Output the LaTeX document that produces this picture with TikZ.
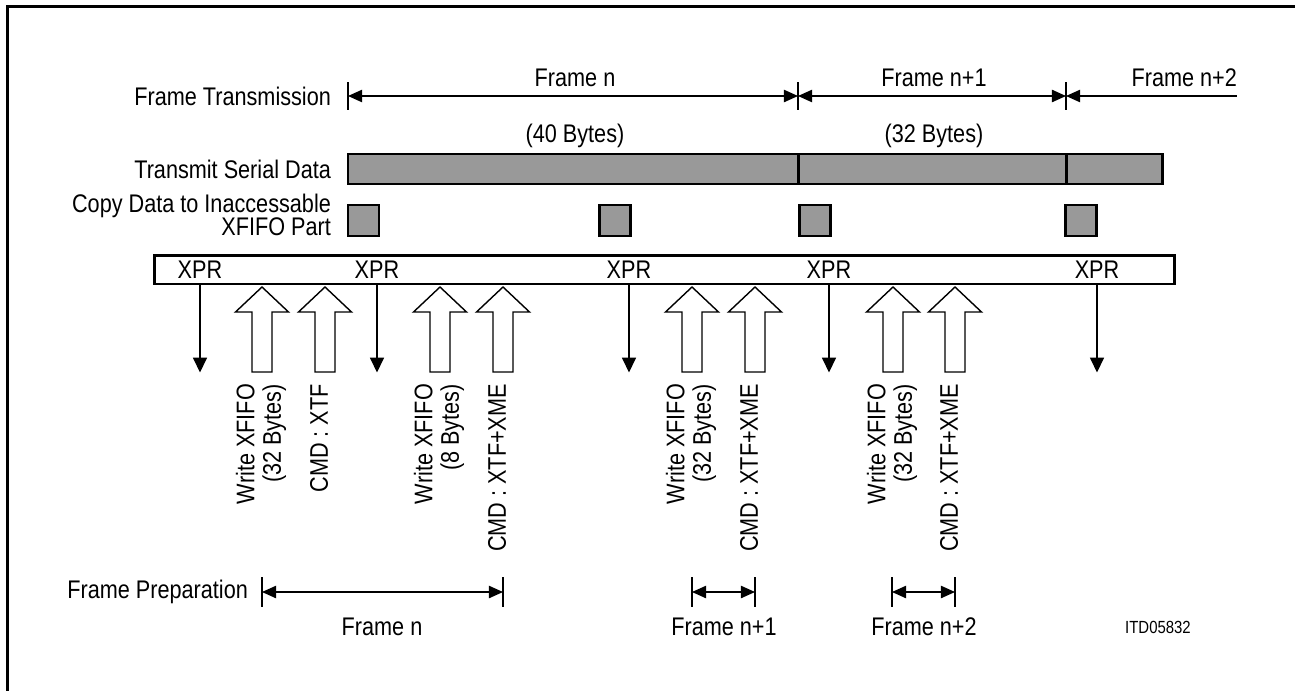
\documentclass[tikz,border=0pt]{standalone}
\usepackage{fontspec}
\setmainfont{Liberation Sans}[FakeStretch=0.85]
\usetikzlibrary{arrows.meta}
\definecolor{dataGray}{RGB}{153,153,153}

\begin{document}
\begin{tikzpicture}[x=0.02cm, y=-0.02cm,
      font=\fontsize{14.5}{13.5}\selectfont,
      lbl/.style={inner sep=1pt},
      side/.style={inner sep=1pt, anchor=east, align=right},
      vert/.style={inner sep=1pt, rotate=90, anchor=east, align=right, font=\fontsize{14.5}{15}\selectfont},
      dim/.style={{Triangle[length=8pt,width=7pt]}-{Triangle[length=8pt,width=7pt]}, line width=0.8pt},
      tick/.style={line width=0.7pt},
      databox/.style={draw, line width=1.7pt, fill=dataGray},
      xprflag/.style={-{Triangle[length=8.5pt,width=8pt]}, line width=0.8pt},
      hollow/.style={draw, fill=white, line width=0.8pt, line join=miter}
    ]
    \useasboundingbox (0,0) rectangle (1295,690);
    \draw[line width=1.7pt] (7.5,6.5) rectangle (1320,720);

    \node[side] (ftx) at (333,96)  {Frame Transmission};
    \node[lbl]  (fn)  at (575,78)  {Frame n};
    \node[lbl]  (fn1) at (934,78)  {Frame n+1};
    \node[lbl, anchor=east] (fn2) at (1239,78) {Frame n+2};
    \node[lbl]  (b40) at (575,136) {(40 Bytes)};
    \node[lbl]  (b32) at (934,136) {(32 Bytes)};

    \coordinate (t0) at (348,96);
    \coordinate (t1) at (798,96);
    \coordinate (t2) at (1066,96);
    \coordinate (t3) at (1237,96);
    \draw[tick] (t0) ++(0,-14) -- ++(0,28);
    \draw[tick] (t1) ++(0,-14) -- ++(0,28);
    \draw[tick] (t2) ++(0,-14) -- ++(0,28);
    \draw[dim] (t0) -- (t1);
    \draw[dim] (t1) -- (t2);
    \draw[{Triangle[length=8pt,width=7pt]}-, line width=0.8pt] (t2) -- (t3);

    \node[side] (tsd) at (333,169) {Transmit Serial Data};
    \draw[databox] (348,154) rectangle (798,184);
    \draw[databox] (798,154) rectangle (1066,184);
    \draw[databox] (1066,154) rectangle (1162,184);

    \node[side] (cpy) at (333,215) {Copy Data to Inaccessable\\XFIFO Part};
    \draw[databox] (348,205) rectangle ++(31,31);
    \draw[databox] (599,205) rectangle ++(31,31);
    \draw[databox] (799,205) rectangle ++(31,31);
    \draw[databox] (1065,205) rectangle ++(31,31);

    \node[draw, line width=1.7pt, minimum width=20.42cm, minimum height=0.58cm] (xprbar) at (664.5,269.5) {};
    \node[lbl] (xpr1) at (200,270)  {XPR};
    \node[lbl] (xpr2) at (377,270)  {XPR};
    \node[lbl] (xpr3) at (629,270)  {XPR};
    \node[lbl] (xpr4) at (829,270)  {XPR};
    \node[lbl] (xpr5) at (1097,270) {XPR};

    \draw[xprflag] (xpr1 |- xprbar.south) -- ++(0,87);
    \draw[xprflag] (xpr2 |- xprbar.south) -- ++(0,87);
    \draw[xprflag] (xpr3 |- xprbar.south) -- ++(0,87);
    \draw[xprflag] (xpr4 |- xprbar.south) -- ++(0,87);
    \draw[xprflag] (xpr5 |- xprbar.south) -- ++(0,87);

    \draw[hollow] (262,287) -- ++(26.5,25) -- ++(-16.5,0) -- ++(0,60) -- ++(-20,0) -- ++(0,-60) -- ++(-16.5,0) -- cycle;
    \draw[hollow] (325,287) -- ++(26.5,25) -- ++(-16.5,0) -- ++(0,60) -- ++(-20,0) -- ++(0,-60) -- ++(-16.5,0) -- cycle;
    \draw[hollow] (440,287) -- ++(26.5,25) -- ++(-16.5,0) -- ++(0,60) -- ++(-20,0) -- ++(0,-60) -- ++(-16.5,0) -- cycle;
    \draw[hollow] (503,287) -- ++(26.5,25) -- ++(-16.5,0) -- ++(0,60) -- ++(-20,0) -- ++(0,-60) -- ++(-16.5,0) -- cycle;
    \draw[hollow] (692,287) -- ++(26.5,25) -- ++(-16.5,0) -- ++(0,60) -- ++(-20,0) -- ++(0,-60) -- ++(-16.5,0) -- cycle;
    \draw[hollow] (755,287) -- ++(26.5,25) -- ++(-16.5,0) -- ++(0,60) -- ++(-20,0) -- ++(0,-60) -- ++(-16.5,0) -- cycle;
    \draw[hollow] (893,287) -- ++(26.5,25) -- ++(-16.5,0) -- ++(0,60) -- ++(-20,0) -- ++(0,-60) -- ++(-16.5,0) -- cycle;
    \draw[hollow] (955,287) -- ++(26.5,25) -- ++(-16.5,0) -- ++(0,60) -- ++(-20,0) -- ++(0,-60) -- ++(-16.5,0) -- cycle;

    \node[vert] (w1) at (261,382) {Write XFIFO\\(32 Bytes)};
    \node[vert] (c1) at (319,382) {CMD : XTF};
    \node[vert] (w2) at (439,382) {Write XFIFO\\(8 Bytes)};
    \node[vert] (c2) at (497,382) {CMD : XTF+XME};
    \node[vert] (w3) at (691,382) {Write XFIFO\\(32 Bytes)};
    \node[vert] (c3) at (749,382) {CMD : XTF+XME};
    \node[vert] (w4) at (892,382) {Write XFIFO\\(32 Bytes)};
    \node[vert] (c4) at (949,382) {CMD : XTF+XME};

    \node[side] (fprep) at (250,592) {Frame Preparation};
    \coordinate (p0) at (262,592);
    \coordinate (p1) at (503,592);
    \coordinate (p2) at (692,592);
    \coordinate (p3) at (755,592);
    \coordinate (p4) at (892,592);
    \coordinate (p5) at (955,592);
    \draw[tick] (p0) ++(0,-15) -- ++(0,30);
    \draw[tick] (p1) ++(0,-15) -- ++(0,30);
    \draw[tick] (p2) ++(0,-15) -- ++(0,30);
    \draw[tick] (p3) ++(0,-15) -- ++(0,30);
    \draw[tick] (p4) ++(0,-15) -- ++(0,30);
    \draw[tick] (p5) ++(0,-15) -- ++(0,30);
    \draw[dim] (p0) -- (p1);
    \draw[dim] (p2) -- (p3);
    \draw[dim] (p4) -- (p5);

    \node[lbl] (pn)  at (382,627) {Frame n};
    \node[lbl] (pn1) at (724,627) {Frame n+1};
    \node[lbl] (pn2) at (924,627) {Frame n+2};
    \node[lbl, font=\fontsize{10}{11}\selectfont] (itd) at (1158,627) {ITD05832};
  \end{tikzpicture}
\end{document}
